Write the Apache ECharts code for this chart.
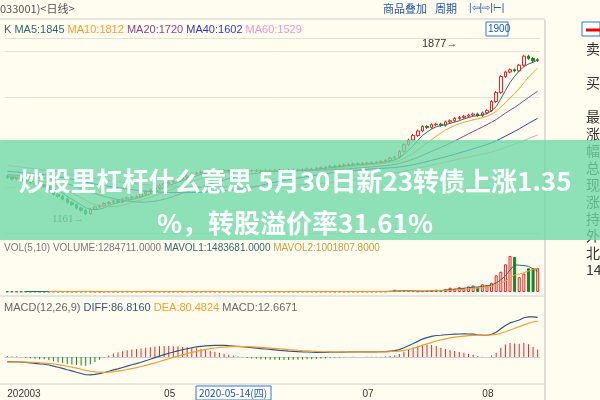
<!DOCTYPE html>
<html><head><meta charset="utf-8">
<script src="https://cdn.jsdelivr.net/npm/echarts@6/dist/echarts.min.js"></script>
<style>html,body{margin:0;padding:0;background:#fffdf0}#c{width:600px;height:400px}</style>
</head><body><div id="c"></div>
<script>
// pre-history closes (for moving averages)
const history = [1480,1475,1470,1465,1460,1455,1450,1445,1440,1436,1432,1428,1424,1420,1416,1412,1408,1404,1400,1396,1392,1388,1385,1382,1380,1378,1376,1374,1372,1370,1368,1366,1364,1362,1360,1358,1356,1354,1352,1350,1348,1347,1346,1345,1344,1343,1342,1341,1340,1339,1338,1337,1336,1335,1334,1333,1332,1331,1330,1328];
const closes = [1325,1318,1322,1310,1305,1300,1292,1285,1288,1270,1250,1242,1230,1215,1205,1190,1180,1165,1185,1195,
 1200,1210,1215,1222,1218,1230,1235,1238,1240,1252,1262,1270,1280,1290,1298,1305,1310,1318,1325,1332,
 1340,1345,1348,1350,1352,1355,1354,1356,1353,1355,1357,1355,1354,1356,1355,1353,1356,1355,1357,1354,
 1355,1356,1358,1357,1360,1362,1360,1365,1368,1370,1375,1372,1378,1380,1382,1385,1383,1386,1388,1390,
 1392,1395,1400,1410,1415,1440,1470,1490,1510,1530,1550,1545,1558,1560,1555,1570,1575,1585,1590,1595,
 1600,1605,1598,1610,1620,1660,1700,1770,1790,1800,1795,1820,1860,1850,1840,1845];
const volumes = [30,28,32,30,26,28,30,25,27,30,32,28,30,27,26,29,30,34,30,28,
 27,26,28,30,27,29,31,28,30,29,31,30,28,29,30,27,28,30,29,31,
 30,28,27,29,30,28,27,29,28,30,29,28,27,28,30,29,28,30,27,29,
 28,30,29,28,31,30,29,28,30,31,29,30,28,30,29,31,30,29,28,30,
 30,32,35,60,120,70,60,55,50,40,45,80,90,120,80,150,230,180,260,200,
 300,350,250,420,380,500,900,1100,1500,1950,1900,800,1000,1284,1284,1284].map(v=>v*1000);
const tickLabels = {0:'202003',34:'05',77:'07',103:'08'};

const n = closes.length;
const cats = closes.map((_,i)=>i);
const all = history.concat(closes);
function ma(p){return closes.map((_,i)=>{const e=history.length+i+1;let s=0;for(let k=e-p;k<e;k++)s+=all[k];return +(s/p).toFixed(1);});}
const kdata = closes.map((c,i)=>{const o=i?closes[i-1]:1330;const lo=Math.min(o,c),hi=Math.max(o,c);return [o,c,lo-6,hi+6];});
function ema(arr,p){const a=2/(p+1);let e=arr[0];return arr.map(v=>e=e+a*(v-e));}
const e12=ema(all,12),e26=ema(all,26);
const diffAll=e12.map((v,i)=>v-e26[i]);const deaAll=ema(diffAll,9);
const diff=diffAll.slice(history.length),dea=deaAll.slice(history.length);
const macd=diff.map((v,i)=>(v-dea[i])*2);
const vma=(p)=>volumes.map((_,i)=>{if(i<p-1)return null;let s=0;for(let k=i-p+1;k<=i;k++)s+=volumes[k];return s/p;});

const up='#ee2222',dn='#118822';
const chart=echarts.init(document.getElementById('c'));
const xa=(gi,show)=>({type:'category',gridIndex:gi,data:cats,boundaryGap:true,axisLine:{show:show,lineStyle:{color:'#ccc'}},axisTick:{show:false},
 axisLabel:{show:show,interval:0,formatter:(v,i)=>tickLabels[i]||'',color:'#333',fontSize:10,fontFamily:'Liberation Sans',align:'left',margin:6},splitLine:{show:false}});
chart.setOption({
 backgroundColor:'#fffdf0',animation:false,
 grid:[{left:5,right:60,top:38,height:195},{left:5,right:60,top:255,height:37},{left:5,right:60,top:305,height:78}],
 xAxis:[xa(0,false),xa(1,false),xa(2,true)],
 yAxis:[
  {gridIndex:0,min:1080,max:1940,position:'right',axisLabel:{show:false},axisLine:{show:false},splitLine:{lineStyle:{color:'#e6e2d0'}},interval:200},
  {gridIndex:1,min:0,max:2000000,axisLabel:{show:false},splitLine:{show:false}},
  {gridIndex:2,scale:true,axisLabel:{show:false},splitLine:{show:false}}],
 series:[
  {type:'candlestick',data:kdata,barWidth:3,itemStyle:{color:'#fffdf0',color0:dn,borderColor:up,borderColor0:dn}},
  {type:'line',data:ma(5),showSymbol:false,lineStyle:{color:'#336666',width:1}},
  {type:'line',data:ma(10),showSymbol:false,lineStyle:{color:'#f0a030',width:1}},
  {type:'line',data:ma(20),showSymbol:false,lineStyle:{color:'#884488',width:1}},
  {type:'line',data:ma(40),showSymbol:false,lineStyle:{color:'#3333cc',width:1}},
  {type:'line',data:ma(60),showSymbol:false,lineStyle:{color:'#ee99cc',width:1}},
  {type:'bar',xAxisIndex:1,yAxisIndex:1,barWidth:3,data:volumes.map((v,i)=>({value:v,itemStyle:{color:kdata[i][1]>=kdata[i][0]?'#fffdf0':dn,borderColor:kdata[i][1]>=kdata[i][0]?up:dn,borderWidth:1}}))},
  {type:'line',xAxisIndex:1,yAxisIndex:1,data:vma(5),showSymbol:false,lineStyle:{color:'#336666',width:1}},
  {type:'line',xAxisIndex:1,yAxisIndex:1,data:vma(10),showSymbol:false,lineStyle:{color:'#f0a030',width:1}},
  {type:'bar',xAxisIndex:2,yAxisIndex:2,barWidth:1,data:macd.map(v=>({value:v,itemStyle:{color:v>=0?up:dn}}))},
  {type:'line',xAxisIndex:2,yAxisIndex:2,data:diff,showSymbol:false,lineStyle:{color:'#335577',width:1.2}},
  {type:'line',xAxisIndex:2,yAxisIndex:2,data:dea,showSymbol:false,lineStyle:{color:'#f0a030',width:1.2}}
 ],
 graphic:[
  {type:'rect',shape:{x:0,y:0,width:600,height:18},style:{fill:'#fffdf0'}},
  {type:'text',x:0,y:3,style:{text:'033001)<日线>',fontSize:11,fill:'#555',fontFamily:'Noto Sans CJK SC'}},
  {type:'text',x:383,y:3,style:{text:'商品叠加',fontSize:11,fill:'#2255aa',fontFamily:'Noto Sans CJK SC'}},
  {type:'text',x:435,y:3,style:{text:'周期',fontSize:11,fill:'#2255aa',fontFamily:'Noto Sans CJK SC'}},
  {type:'text',x:469,y:3,style:{text:'|⇦|⇨|⊢|',fontSize:10,fill:'#2255aa'}},
  {type:'line',shape:{x1:0,y1:19,x2:545,y2:19},style:{stroke:'#ccc'}},
  {type:'text',x:4,y:24,style:{rich:{a:{fill:'#555'},b:{fill:'#336666'},c:{fill:'#f0a030'},d:{fill:'#884488'},e:{fill:'#3333cc'},f:{fill:'#ee99cc'}},text:'{a|K }{b|MA5:1845 }{c|MA10:1812 }{d|MA20:1720 }{e|MA40:1602 }{f|MA60:1529}',fontSize:11,fontFamily:'Liberation Sans'}},
  {type:'rect',shape:{x:486,y:22,width:22,height:14},style:{fill:'#fff',stroke:'#3377cc'}},
  {type:'text',x:488,y:24,style:{text:'1900',fontSize:10,fill:'#2255aa',fontFamily:'Liberation Sans'}},
  {type:'text',x:422,y:38,style:{text:'1877→',fontSize:11,fill:'#333',fontFamily:'Liberation Sans'}},
  {type:'text',x:52,y:214,style:{text:'1161→',fontSize:11,fill:'#555',fontFamily:'Liberation Serif'}},
  {type:'line',shape:{x1:545,y1:20,x2:545,y2:400},style:{stroke:'#bbb'}},
  {type:'rect',shape:{x:546,y:20,width:54,height:380},style:{fill:'#fffdf0'}},
  {type:'rect',shape:{x:582,y:22,width:18,height:14},style:{fill:'#fff',stroke:'#3377cc'}},
  {type:'line',shape:{x1:586,y1:30,x2:600,y2:30},style:{stroke:'#e00',lineWidth:3}},
  {type:'text',x:586,y:40,style:{text:'卖\n\n买\n\n最\n涨\n幅\n总\n现\n涨\n持\n外\n北\n14',fontSize:14,lineHeight:17,fill:'#333',fontFamily:'Noto Sans CJK SC'}},
  {type:'text',x:4,y:243,style:{rich:{a:{fill:'#777'},b:{fill:'#336666'},c:{fill:'#c0a040'}},text:'{a|VOL(5,10) VOLUME:1284711.0000 }{b|MAVOL1:1483681.0000 }{c|MAVOL2:1001807.8000}',fontSize:10,fontFamily:'Liberation Sans'}},
  {type:'line',shape:{x1:0,y1:296,x2:545,y2:296},style:{stroke:'#ccc'}},
  {type:'text',x:4,y:302,style:{rich:{a:{fill:'#666'},b:{fill:'#335577'},c:{fill:'#f0a030'}},text:'{a|MACD(12,26,9) }{b|DIFF:86.8160 }{c|DEA:80.4824 }{a|MACD:12.6671}',fontSize:11,fontFamily:'Liberation Sans'}},
  {type:'line',shape:{x1:0,y1:384,x2:545,y2:384},style:{stroke:'#ccc'}},
  {type:'rect',shape:{x:196,y:386,width:75,height:14},style:{fill:'#fff',stroke:'#3377cc'}},
  {type:'text',x:199,y:388,style:{text:'2020-05-14(四)',fontSize:10,fill:'#2255aa',fontFamily:'Noto Sans CJK SC'}},
  {type:'rect',z:100,shape:{x:0,y:140,width:600,height:100},style:{fill:'rgba(110,215,165,0.78)'}},
  {type:'text',z:101,x:295,y:160,style:{text:'炒股里杠杆什么意思 5月30日新23转债上涨1.35\n%，转股溢价率31.61%',textAlign:'center',verticalAlign:'top',fontSize:26,lineHeight:42,fontWeight:'bold',fill:'#fff',fontFamily:'Noto Sans CJK SC'}}
 ]
});
</script></body></html>
